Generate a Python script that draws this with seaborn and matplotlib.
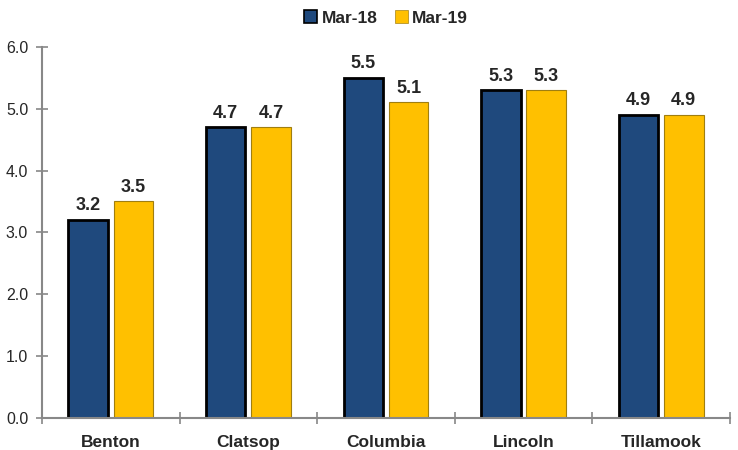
import seaborn as sns
import matplotlib.pyplot as plt
import pandas as pd
import numpy as np

counties = ["Benton", "Clatsop", "Columbia", "Lincoln", "Tillamook"]
mar18 = [3.2, 4.7, 5.5, 5.3, 4.9]
mar19 = [3.5, 4.7, 5.1, 5.3, 4.9]
series = ["Mar-18", "Mar-19"]

df = pd.DataFrame({
    "County": counties * 2,
    "Period": [series[0]] * len(counties) + [series[1]] * len(counties),
    "Rate": mar18 + mar19,
})

sns.set_style("white")
plt.rcParams["font.family"] = ["Liberation Sans", "DejaVu Sans"]

fig = plt.figure(figsize=(7.38, 4.5), dpi=100)
ax = fig.add_axes([0.057, 0.071, 0.932, 0.825])

colors = {"Mar-18": "#1F497D", "Mar-19": "#FFC000"}
sns.barplot(data=df, x="County", y="Rate", hue="Period", palette=colors,
            width=0.66, gap=0.13, saturation=1, ax=ax, legend=True)

edge = [("black", 2.0), ("#A07E10", 0.8)]
for cont, (ec, lw) in zip(ax.containers, edge):
    for p in cont:
        p.set_edgecolor(ec)
        p.set_linewidth(lw)
    ax.bar_label(cont, fmt="%.1f", padding=4, fontsize=13, fontweight="bold")

ax.set_ylim(0, 6)
ax.set_xlim(-0.5, len(counties) - 0.5)
ax.set_yticks(np.arange(0, 6.01, 1.0))
ax.set_yticklabels([f"{v:.1f}" for v in np.arange(0, 6.01, 1.0)], fontsize=11.5)
ax.set_xticks(range(len(counties)))
ax.set_xticklabels(counties, fontsize=12.5, fontweight="bold")
ax.set_xticks(np.arange(-0.5, len(counties), 1.0), minor=True)
ax.tick_params(axis="x", which="major", length=0, pad=12)
ax.tick_params(axis="x", which="minor", bottom=True, length=8, direction="inout",
               color="#888888", width=1.2)
ax.tick_params(axis="y", left=True, length=8, direction="inout", color="#888888",
               width=1.2, pad=6)
ax.set_xlabel("")
ax.set_ylabel("")

for s in ["top", "right"]:
    ax.spines[s].set_visible(False)
for s in ["left", "bottom"]:
    ax.spines[s].set_color("#888888")
    ax.spines[s].set_linewidth(1.5)

leg = ax.legend(loc="upper center", bbox_to_anchor=(0.5, 1.14), ncol=2, frameon=False,
                prop={"weight": "bold", "size": 12.5}, handlelength=0.75, handleheight=0.75,
                handletextpad=0.25, columnspacing=1.0)
for h, (ec, lw) in zip(leg.legend_handles, edge):
    h.set_edgecolor(ec)
    h.set_linewidth(lw * 0.6)

plt.savefig("out.png", dpi=100)
plt.close()
